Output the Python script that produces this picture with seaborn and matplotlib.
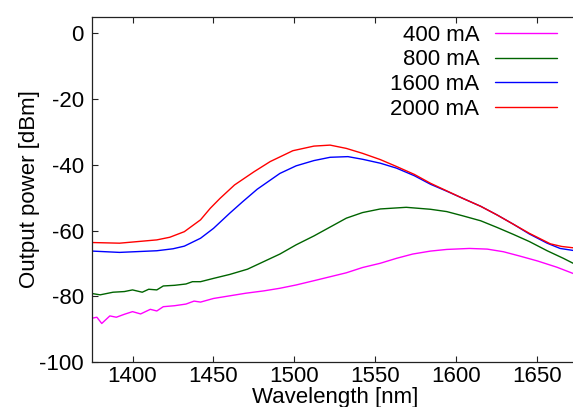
import matplotlib

matplotlib.use("Agg")

import matplotlib.pyplot as plt
import pandas as pd
import seaborn as sns

# 400 mA
wl_400 = [1375, 1378, 1381, 1386, 1390, 1395, 1400, 1405, 1411, 1415, 1419, 1426, 1433,
          1438, 1442, 1450, 1460, 1470, 1481, 1491, 1501, 1512, 1522, 1532, 1542, 1553,
          1563, 1573, 1584, 1594, 1608, 1619, 1629, 1639, 1650, 1662, 1672]
p_400 = [-86.6, -86.3, -88.2, -85.9, -86.3, -85.4, -84.6, -85.3, -83.9, -84.4, -83.1, -82.8,
         -82.3, -81.4, -81.7, -80.6, -79.8, -79.0, -78.3, -77.5, -76.5, -75.2, -74.0, -72.8,
         -71.2, -69.9, -68.4, -67.1, -66.2, -65.7, -65.4, -65.6, -66.4, -67.7, -69.2, -71.1, -73.0]

# 800 mA
wl_800 = [1375, 1380, 1388, 1395, 1400, 1406, 1410, 1415, 1419, 1426, 1433, 1437, 1442,
          1450, 1460, 1471, 1481, 1491, 1501, 1512, 1522, 1532, 1542, 1553, 1569, 1584,
          1594, 1604, 1615, 1625, 1635, 1645, 1656, 1666, 1672]
p_800 = [-79.1, -79.5, -78.7, -78.5, -78.0, -78.7, -77.8, -78.0, -76.8, -76.6, -76.2, -75.5,
         -75.5, -74.5, -73.3, -71.7, -69.4, -67.1, -64.3, -61.6, -58.9, -56.2, -54.5, -53.4,
         -52.9, -53.5, -54.2, -55.5, -57.0, -59.0, -61.1, -63.3, -66.1, -68.4, -69.9]

# 1600 mA
wl_1600 = [1375, 1392, 1415, 1425, 1432, 1442, 1450, 1460, 1468, 1477, 1491, 1501, 1512,
           1522, 1533, 1542, 1553, 1563, 1574, 1584, 1594, 1604, 1615, 1625, 1635, 1645,
           1656, 1664, 1672]
p_1600 = [-66.2, -66.6, -66.1, -65.5, -64.7, -62.3, -59.3, -54.7, -51.2, -47.4, -42.6, -40.3,
          -38.7, -37.7, -37.5, -38.3, -39.5, -41.0, -43.3, -45.9, -48.0, -50.2, -52.6, -55.2,
          -58.0, -61.0, -63.8, -65.4, -66.0]

# 2000 mA
wl_2000 = [1375, 1392, 1415, 1423, 1432, 1442, 1448, 1454, 1463, 1475, 1485, 1499, 1512,
           1522, 1532, 1542, 1553, 1563, 1574, 1584, 1594, 1604, 1615, 1625, 1635, 1645,
           1658, 1665, 1672]
p_2000 = [-63.6, -63.8, -62.8, -62.0, -60.3, -56.7, -53.2, -50.2, -46.1, -42.1, -39.0, -35.7,
          -34.3, -34.0, -35.0, -36.5, -38.4, -40.5, -42.9, -45.6, -47.9, -50.2, -52.6, -55.2,
          -58.0, -60.8, -64.0, -64.8, -65.2]

currents = ["400 mA", "800 mA", "1600 mA", "2000 mA"]
colors = ["#ff00ff", "#006400", "#0000ff", "#ff0000"]

frames = []
for name, wl, pw in zip(currents, [wl_400, wl_800, wl_1600, wl_2000],
                        [p_400, p_800, p_1600, p_2000]):
    frames.append(pd.DataFrame({"wavelength": wl, "power": pw, "current": name}))
df = pd.concat(frames, ignore_index=True)

sns.set_style("ticks")
plt.rcParams["font.family"] = ["Liberation Sans", "DejaVu Sans"]
plt.rcParams["axes.unicode_minus"] = False
plt.rcParams["text.color"] = "black"
plt.rcParams["axes.labelcolor"] = "black"

fig = plt.figure(figsize=(5.73, 4.07), dpi=100)
ax = fig.add_axes([0.1606, 0.1098, 0.848, 0.849])

sns.lineplot(data=df, x="wavelength", y="power", hue="current", hue_order=currents,
             palette=colors, estimator=None, sort=False, linewidth=1.0, ax=ax, legend=False)

fs = 16
ax.set_xlim(1375, 1675)
ax.set_ylim(-100, 5)
ax.set_xticks([1400, 1450, 1500, 1550, 1600, 1650])
ax.set_yticks([0, -20, -40, -60, -80, -100])
ax.tick_params(direction="in", length=4, width=0.8, labelsize=fs, top=True,
               colors="#222222", labelcolor="black")
ax.tick_params(axis="y", pad=6)
ax.tick_params(axis="x", pad=3)
for s in ax.spines.values():
    s.set_linewidth(0.9)
    s.set_color("#222222")

ax.set_xlabel("Wavelength [nm]", fontsize=fs, labelpad=-0.5)
ax.set_ylabel("Output power [dBm]", fontsize=fs, labelpad=-1)

handles = ax.get_lines()[:4]
ax.legend(handles, currents, loc="upper right", bbox_to_anchor=(0.957, 0.977),
          frameon=False, markerfirst=False, fontsize=fs, handlelength=2.8,
          handletextpad=0.7, labelspacing=0.17, borderpad=0, borderaxespad=0)

fig.savefig("out.png", dpi=100)
